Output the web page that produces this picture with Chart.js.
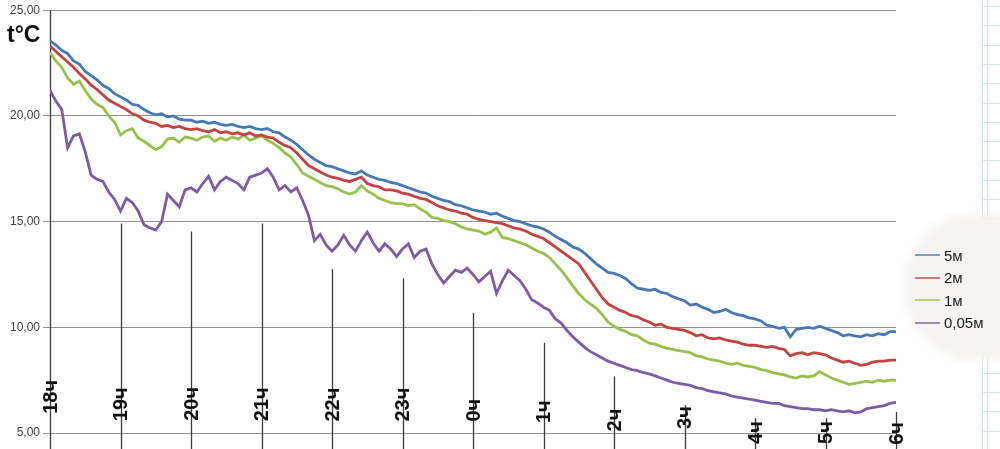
<!DOCTYPE html>
<html>
<head>
<meta charset="utf-8">
<script src="https://cdn.jsdelivr.net/npm/chart.js@4.4.1/dist/chart.umd.min.js"></script>
<style>
  html, body { margin: 0; padding: 0; background: #ffffff; }
  #wrap { position: relative; width: 1000px; height: 449px; overflow: hidden; background: #fff; }
  #paper { position: absolute; left: 982px; top: 0; width: 18px; height: 449px;
    border-left: 1px solid #cfe0e6; 
    background-image: linear-gradient(to right, transparent 4px, #cfe0e6 4px, #cfe0e6 5px, transparent 5px),
      repeating-linear-gradient(to bottom, transparent 0px, transparent 6px, #d6e5ea 6px, #d6e5ea 7px, transparent 7px, transparent 19.3px);
  }
  #blob { position: absolute; left: 905px; top: 214px; width: 110px; height: 146px;
    background: #f6f4f2; border-radius: 70px 0 0 70px; filter: blur(4px); }
  #ylab { position: absolute; left: 7px; top: 21px; font: bold 23px "Liberation Sans", Arial, sans-serif; color: #111; }
  #legend { position: absolute; left: 915px; top: 244px; font: 15px "Liberation Sans", Arial, sans-serif; color: #1a1a1a; }
  #legend .row { height: 22.5px; display: flex; align-items: center; }
  #legend .sw { width: 25px; height: 2px; margin-right: 4px; opacity: 0.7; }
  canvas { position: absolute; left: 0; top: 0; }
</style>
</head>
<body>
<div id="wrap">
  <div id="paper"></div>
  <div id="blob"></div>
  <canvas id="c" width="1000" height="449"></canvas>
  <div id="ylab">t°C</div>
  <div id="legend"></div>
</div>
<script>
// ---- data ----
const hourLabels = ['18ч','19ч','20ч','21ч','22ч','23ч','0ч','1ч','2ч','3ч','4ч','5ч','6ч'];
const seriesNames = ['5м','2м','1м','0,05м'];
const stepMinutes = 5; // samples every 5 minutes from 18:00 to 06:00
const yTickMin = 5, yTickMax = 25, yTickStep = 5;

const t5m = [
  23.55,23.35,23.1,22.95,22.6,22.45,22.1,21.9,21.7,21.45,21.3,21.05,
  20.9,20.75,20.55,20.5,20.3,20.15,20.05,20.1,19.95,20.0,19.85,19.8,
  19.8,19.7,19.75,19.65,19.7,19.6,19.55,19.6,19.5,19.45,19.5,19.4,
  19.35,19.4,19.25,19.2,19.0,18.85,18.65,18.4,18.15,17.95,17.8,17.65,
  17.6,17.5,17.4,17.3,17.25,17.4,17.2,17.1,17.0,16.95,16.85,16.8,
  16.7,16.6,16.5,16.4,16.35,16.2,16.1,16.0,15.95,15.8,15.75,15.65,
  15.55,15.5,15.45,15.35,15.4,15.25,15.15,15.05,15.0,14.9,14.8,14.75,
  14.65,14.5,14.3,14.15,14.0,13.8,13.7,13.5,13.25,13.0,12.8,12.6,
  12.55,12.45,12.3,12.05,11.85,11.8,11.75,11.8,11.65,11.6,11.45,11.35,
  11.25,11.05,11.1,10.95,10.85,10.7,10.75,10.85,10.7,10.6,10.55,10.45,
  10.4,10.3,10.1,10.05,9.95,10.0,9.55,9.9,9.95,10.0,9.95,10.05,
  9.95,9.85,9.75,9.6,9.65,9.6,9.55,9.65,9.6,9.7,9.65,9.8,9.8
];
const t2m = [
  23.3,23.05,22.8,22.55,22.3,22.0,21.75,21.45,21.25,21.0,20.75,20.6,
  20.45,20.3,20.1,20.0,19.8,19.7,19.65,19.5,19.55,19.45,19.5,19.4,
  19.35,19.4,19.3,19.25,19.35,19.2,19.25,19.15,19.2,19.1,19.2,19.05,
  19.1,19.0,18.95,18.75,18.6,18.5,18.25,17.95,17.65,17.5,17.35,17.2,
  17.1,17.05,16.95,16.9,17.0,17.1,16.8,16.7,16.65,16.5,16.5,16.45,
  16.35,16.3,16.2,16.1,16.05,15.9,15.75,15.65,15.55,15.5,15.4,15.35,
  15.2,15.1,15.05,15.0,14.95,14.9,14.8,14.7,14.65,14.55,14.4,14.3,
  14.2,14.0,13.8,13.6,13.4,13.2,13.0,12.6,12.2,11.8,11.4,11.1,
  10.95,10.8,10.7,10.55,10.5,10.35,10.25,10.1,10.15,10.0,9.95,9.9,
  9.85,9.75,9.6,9.65,9.5,9.45,9.5,9.4,9.35,9.3,9.2,9.15,
  9.15,9.1,9.05,9.1,9.0,8.95,8.65,8.75,8.8,8.7,8.8,8.75,
  8.7,8.55,8.45,8.35,8.4,8.3,8.2,8.25,8.35,8.4,8.4,8.45,8.45
];
const t1m = [
  23.0,22.6,22.3,21.8,21.5,21.65,21.2,20.8,20.55,20.4,20.0,19.7,
  19.1,19.3,19.4,18.95,18.8,18.6,18.4,18.55,18.9,18.95,18.75,19.0,
  18.95,18.85,19.0,19.05,18.8,18.95,18.85,19.0,18.9,19.1,18.85,18.95,
  19.05,18.85,18.7,18.5,18.25,18.05,17.7,17.3,17.15,17.0,16.85,16.7,
  16.65,16.55,16.4,16.3,16.4,16.7,16.45,16.3,16.1,16.0,15.9,15.85,
  15.85,15.75,15.8,15.6,15.45,15.2,15.15,15.05,15.0,14.9,14.75,14.65,
  14.6,14.55,14.4,14.5,14.7,14.25,14.2,14.1,14.0,13.9,13.75,13.6,
  13.5,13.3,13.0,12.7,12.35,11.95,11.6,11.3,11.1,10.9,10.6,10.25,
  10.05,9.9,9.8,9.65,9.6,9.4,9.25,9.2,9.1,9.0,8.95,8.9,
  8.85,8.8,8.65,8.6,8.5,8.45,8.4,8.3,8.25,8.3,8.2,8.15,
  8.1,8.0,7.95,7.85,7.8,7.75,7.65,7.6,7.7,7.65,7.7,7.9,
  7.75,7.6,7.5,7.4,7.3,7.35,7.4,7.45,7.4,7.5,7.45,7.5,7.5
];
const t005m = [
  21.2,20.7,20.3,18.5,19.05,19.15,18.3,17.2,17.0,16.9,16.4,16.05,
  15.5,16.1,15.9,15.5,14.85,14.7,14.6,15.0,16.3,16.0,15.7,16.5,
  16.6,16.4,16.8,17.15,16.5,16.9,17.1,16.95,16.8,16.5,17.1,17.2,
  17.3,17.5,17.1,16.5,16.7,16.4,16.6,16.0,15.3,14.1,14.4,13.9,
  13.6,13.9,14.35,13.9,13.6,14.1,14.5,14.0,13.6,13.95,13.7,13.35,
  13.7,13.95,13.3,13.6,13.7,13.0,12.5,12.1,12.4,12.7,12.6,12.8,
  12.5,12.15,12.4,12.65,11.6,12.2,12.7,12.45,12.2,11.8,11.3,11.15,
  10.95,10.8,10.4,10.2,9.85,9.55,9.3,9.05,8.85,8.7,8.55,8.4,
  8.3,8.2,8.1,8.0,7.95,7.85,7.8,7.7,7.6,7.5,7.4,7.35,
  7.3,7.25,7.15,7.1,7.0,6.95,6.9,6.85,6.75,6.7,6.65,6.6,
  6.55,6.5,6.45,6.4,6.4,6.3,6.25,6.2,6.15,6.15,6.1,6.1,
  6.05,6.1,6.05,6.0,6.05,5.95,6.0,6.15,6.2,6.25,6.3,6.4,6.45
];

// ---- hand-drawn hour marks (top of each line and centre of its label, in °C units) ----
const hourLineTop = [25, 14.91, 14.53, 14.91, 12.75, 12.32, 10.68, 9.27, 7.68, 6.31, 5.7, 5.7, 5.99];
const hourLabelMid = [6.71, 6.36, 6.38, 6.36, 6.34, 6.34, 6.08, 6.01, 5.61, 5.73, 5.02, 5.02, 4.98];

const colors = ['#4678b8', '#c2433f', '#98c04a', '#7d5ba6'];
const series = [t5m, t2m, t1m, t005m];

function toPoints(arr) {
  return arr.map((v, i) => ({ x: i * stepMinutes, y: v }));
}

const hourMarks = {
  id: 'hourMarks',
  beforeDatasetsDraw(chart) {
    const ctx = chart.ctx, xs = chart.scales.x, ys = chart.scales.y;
    ctx.save();
    ctx.strokeStyle = '#3c3c3c';
    ctx.lineWidth = 1.3;
    hourLabels.forEach((lab, i) => {
      const x = Math.round(xs.getPixelForValue(i * 60)) + 0.5;
      const top = ys.getPixelForValue(hourLineTop[i]);
      ctx.beginPath();
      ctx.moveTo(x, top);
      ctx.lineTo(x, chart.height);
      ctx.stroke();
    });
    ctx.restore();
  },
  afterDatasetsDraw(chart) {
    const ctx = chart.ctx, xs = chart.scales.x, ys = chart.scales.y;
    ctx.save();
    ctx.fillStyle = '#111';
    ctx.font = 'bold 20px "Liberation Sans", Arial, sans-serif';
    ctx.textAlign = 'center';
    ctx.textBaseline = 'middle';
    hourLabels.forEach((lab, i) => {
      const x = xs.getPixelForValue(i * 60);
      const y = ys.getPixelForValue(hourLabelMid[i]);
      ctx.save();
      ctx.translate(x, y);
      ctx.rotate(-Math.PI / 2);
      ctx.fillText(lab, 0, 1);
      ctx.restore();
    });
    ctx.restore();
  }
};

const chart = new Chart(document.getElementById('c'), {
  type: 'line',
  data: {
    datasets: series.map((s, k) => ({
      label: seriesNames[k],
      data: toPoints(s),
      borderColor: colors[k],
      backgroundColor: colors[k],
      borderWidth: 2.8,
      pointRadius: 0,
      tension: 0,
      fill: false
    }))
  },
  options: {
    responsive: false,
    animation: false,
    devicePixelRatio: 1,
    layout: { padding: { left: 0, right: 104, top: 7, bottom: 16 } },
    plugins: { legend: { display: false }, tooltip: { enabled: false } },
    scales: {
      x: { type: 'linear', min: 0, max: (hourLabels.length - 1) * 60, display: false },
      y: {
        min: yTickMin, max: yTickMax,
        afterFit(scale) { scale.width = 50; },
        ticks: {
          stepSize: yTickStep,
          padding: 3,
          color: '#404040',
          font: { family: '"Liberation Sans", Arial, sans-serif', size: 12 },
          callback: v => v.toFixed(2).replace('.', ',')
        },
        grid: { color: '#8f8f8f', lineWidth: 1, tickLength: 7, drawTicks: true },
        border: { display: true, color: '#8f8f8f', width: 1 }
      }
    }
  },
  plugins: [hourMarks]
});

// HTML legend built from the chart's datasets
const legend = document.getElementById('legend');
chart.data.datasets.forEach(ds => {
  const row = document.createElement('div');
  row.className = 'row';
  const sw = document.createElement('span');
  sw.className = 'sw';
  sw.style.background = ds.borderColor;
  const tx = document.createElement('span');
  tx.textContent = ds.label;
  row.appendChild(sw); row.appendChild(tx);
  legend.appendChild(row);
});
</script>
</body>
</html>
